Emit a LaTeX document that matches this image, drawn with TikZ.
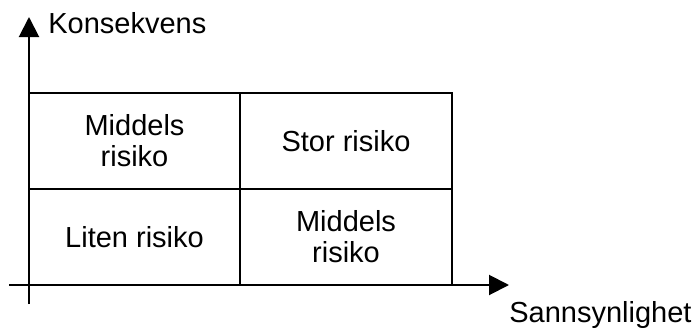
\documentclass[tikz,border=0pt]{standalone}
\usepackage{fontspec}
\setmainfont{Liberation Sans}
\usetikzlibrary{arrows.meta}

\begin{document}
\begin{tikzpicture}[
    x=0.5pt, y=-0.5pt,
    >={Triangle[length=10pt,width=10pt]},
    axis/.style={->,line width=1pt},
    cell/.style={draw,line width=1pt,outer sep=0pt,minimum width=105.75pt,
      minimum height=48pt,align=center,font=\fontsize{14.5}{15.5}\selectfont},
    label/.style={inner sep=0pt,font=\fontsize{14.5}{15.5}\selectfont}
    ]
    \useasboundingbox (0,0) rectangle (696,327);

    % RISK MATRIX
    \node[cell] (ml) at (134.5,141) {Middels\\risiko};
    \node[cell] (sr) at (346,141)   {Stor risiko};
    \node[cell] (lr) at (134.5,237) {Liten risiko};
    \node[cell] (mr) at (346,237)   {Middels\\risiko};

    % AXES
    \coordinate (O) at (29,285);     % origin
    \coordinate (Yb) at (29,304);    % foot of vertical axis
    \coordinate (Yt) at (29,17);     % tip of vertical axis
    \coordinate (Xb) at (9,285);     % start of horizontal axis
    \coordinate (Xt) at (509,285);   % tip of horizontal axis
    \draw[axis] (Yb) -- (Yt);
    \draw[axis] (Xb) -- (Xt);

    \node[label,anchor=base west] (ylab) at (48,33)  {Konsekvens};
    \node[label,anchor=base west] (xlab) at (509,322) {Sannsynlighet};
\end{tikzpicture}
\end{document}
